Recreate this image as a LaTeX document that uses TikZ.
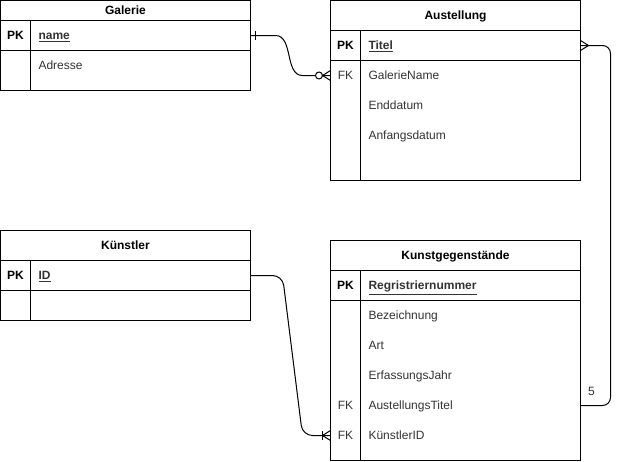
\documentclass[tikz,border=0pt]{standalone}
\usepackage{fontspec}
\setmainfont{Liberation Sans}
\usetikzlibrary{calc}
\definecolor{txtgrey}{HTML}{333333}

\begin{document}
\begin{tikzpicture}[x=1pt, y=-1pt, line width=1pt,
  tbox/.style={draw=black},
  title/.style={font=\fontsize{12}{14}\selectfont\bfseries, inner sep=0pt, text height=8.6pt, text depth=0pt},
  key/.style={anchor=west, minimum width=30pt, minimum height=30pt, inner sep=0pt, outer sep=0pt,
    text height=8.6pt, text depth=0pt, font=\fontsize{12}{14}\selectfont, text=txtgrey},
  pkey/.style={key, font=\fontsize{12}{14}\selectfont\bfseries, text=black},
  field/.style={anchor=west, text width=204pt, inner xsep=8pt, inner ysep=0pt, minimum height=30pt,
    outer sep=0pt, align=left, text height=8.6pt, text depth=0pt, font=\fontsize{12}{14}\selectfont, text=txtgrey},
  conn/.style={draw=black, line width=1pt},
  lbl/.style={anchor=west, inner sep=0pt, text height=8.6pt, text depth=0pt, font=\fontsize{12}{14}\selectfont, text=txtgrey}]
\useasboundingbox (-0.5,-0.5) rectangle (618.5,460.5);
% Galerie
\draw[tbox] (0,0) rectangle (250,90);
\draw[tbox] (0,20) -- (250,20) (0,50) -- (250,50) (30,20) -- (30,90);
\node[title] (gal) at (125,10) {Galerie};
\node[pkey] (gal-name-pk) at (0,35) {PK};
\node[field] (gal-name) at (30,35) {\textbf{\underline{name}}};
\node[field] (gal-adr) at (30,65) {Adresse};
% Austellung
\draw[tbox] (330,0) rectangle (580,180);
\draw[tbox] (330,30) -- (580,30) (330,60) -- (580,60) (360,30) -- (360,180);
\node[title] (aus) at (455,15) {Austellung};
\node[pkey] (aus-titel-pk) at (330,45) {PK};
\node[field] (aus-titel) at (360,45) {\textbf{\underline{Titel}}};
\node[key] (aus-gname-fk) at (330,75) {FK};
\node[field] (aus-gname) at (360,75) {GalerieName};
\node[field] (aus-ende) at (360,105) {Enddatum};
\node[field] (aus-anfang) at (360,135) {Anfangsdatum};
% Kuenstler
\draw[tbox] (0,230) rectangle (250,320);
\draw[tbox] (0,260) -- (250,260) (0,290) -- (250,290) (30,260) -- (30,320);
\node[title] (kue) at (125,245) {Künstler};
\node[pkey] (kue-id-pk) at (0,275) {PK};
\node[field] (kue-id) at (30,275) {\textbf{\underline{ID}}};
% Kunstgegenstaende
\draw[tbox] (330,240) rectangle (580,460);
\draw[tbox] (330,270) -- (580,270) (330,300) -- (580,300) (360,270) -- (360,460);
\node[title] (kg) at (455,255) {Kunstgegenstände};
\node[pkey] (kg-nr-pk) at (330,285) {PK};
\node[field] (kg-nr) at (360,285) {\textbf{\underline{Regristriernummer}}};
\node[field] (kg-bez) at (360,315) {Bezeichnung};
\node[field] (kg-art) at (360,345) {Art};
\node[field] (kg-jahr) at (360,375) {ErfassungsJahr};
\node[key] (kg-atitel-fk) at (330,405) {FK};
\node[field] (kg-atitel) at (360,405) {AustellungsTitel};
\node[key] (kg-kid-fk) at (330,435) {FK};
\node[field] (kg-kid) at (360,435) {KünstlerID};
% Galerie -- Austellung
\draw[conn] (gal-name.east) -- ++(25,0) .. controls +(18,0) and +(-18,0) .. ($(aus-gname-fk.west)+(-28,0)$) -- (aus-gname-fk.west);
\draw[conn] ($(gal-name.east)+(5,-4.5)$) -- ++(0,9);
\draw[conn, fill=white] ($(aus-gname-fk.west)+(-11.5,0)$) circle[radius=3.5pt];
\draw[conn] ($(aus-gname-fk.west)+(0,-5)$) -- ++(-8,5) -- ++(8,5);
% Austellung -- Kunstgegenstaende
\draw[conn, rounded corners=8pt] (aus-titel.east) -- ++(30,0) |- (kg-atitel.east);
\draw[conn] ($(aus-titel.east)+(0,-5)$) -- ++(8,5) -- ++(-8,5);
\node[lbl] (card) at ($(kg-atitel.east)+(7,-14)$) {5};
% Kuenstler -- Kunstgegenstaende
\draw[conn, rounded corners=10pt] (kue-id.east) -- ++(32,0) -- ($(kg-kid-fk.west)+(-28,0)$) -- (kg-kid-fk.west);
\draw[conn] ($(kg-kid-fk.west)+(-8,-4.5)$) -- ++(0,9);
\draw[conn] ($(kg-kid-fk.west)+(0,-5)$) -- ++(-8,5) -- ++(8,5);
\end{tikzpicture}
\end{document}
